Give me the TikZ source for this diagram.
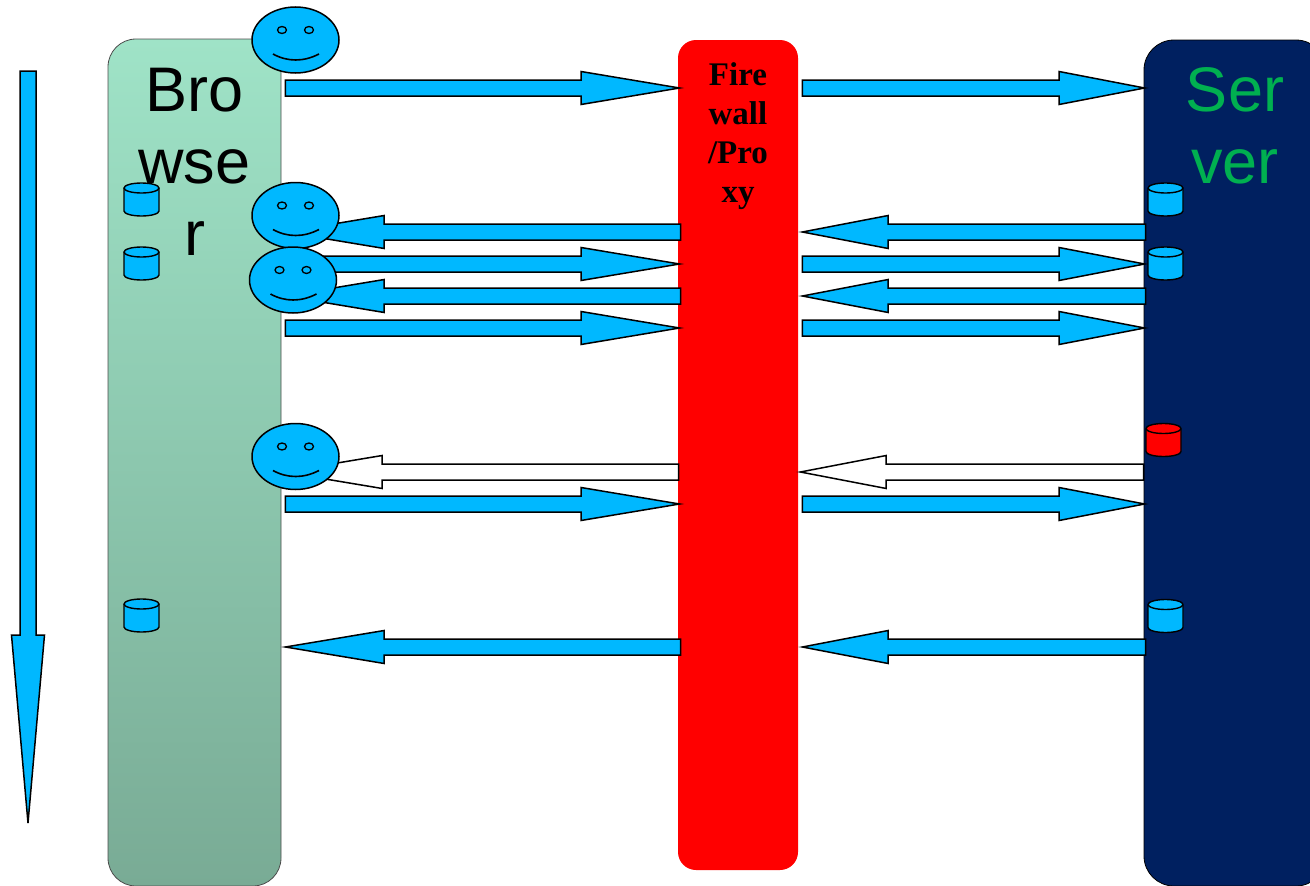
\documentclass[tikz,border=0pt]{standalone}
\usepackage{fontspec}
\setmainfont{Liberation Sans}
\newfontfamily\fwfont{Liberation Serif}
\usetikzlibrary{calc}
\usetikzlibrary{shapes.geometric}
\usetikzlibrary{positioning}

\definecolor{arrowblue}{HTML}{00B8FF}
\definecolor{browsertop}{HTML}{9FE3C7}
\definecolor{browserbottom}{HTML}{79AB95}
\definecolor{servernavy}{HTML}{002060}
\definecolor{servergreen}{HTML}{00B050}

\tikzset{
  lane/.style={rectangle, inner sep=0pt, line width=0.8pt},
  lanelabel/.style={anchor=north, inner sep=0pt, align=center, font=\fontsize{63}{72}\selectfont},
  blockarrow/.style={draw=black, fill=arrowblue, line width=1.5pt,
    to path={let \p1=(\tikztostart), \p2=(\tikztotarget), \p3=($(\p2)!0.25!(\p1)$),
      \n1={atan2(\y2-\y1,\x2-\x1)} in
      ($(\p1)+(\n1+90:8pt)$) -- ($(\p3)+(\n1+90:8pt)$) -- ($(\p3)+(\n1+90:16.5pt)$)
      -- (\p2) -- ($(\p3)+(\n1-90:16.5pt)$) -- ($(\p3)+(\n1-90:8pt)$)
      -- ($(\p1)+(\n1-90:8pt)$) -- cycle}},
  smiley/.style={ellipse, draw=black, fill=arrowblue, line width=1.5pt, inner sep=0pt,
    minimum width=87pt, minimum height=66pt,
    path picture={
      \draw[line width=1.3pt] ([shift={(-13.5,-10)}]path picture bounding box.center) ellipse [x radius=4.5pt, y radius=3.5pt];
      \draw[line width=1.3pt] ([shift={(13.5,-10)}]path picture bounding box.center) ellipse [x radius=4.5pt, y radius=3.5pt];
      \draw[line width=1.6pt] ([shift={(-22.5,14)}]path picture bounding box.center)
        .. controls ([shift={(-8,22)}]path picture bounding box.center) and ([shift={(8,22)}]path picture bounding box.center)
        .. ([shift={(23.5,14)}]path picture bounding box.center);
    }},
  db/.style={draw=black, line width=1.4pt},
}

\begin{document}
\begin{tikzpicture}[x=1pt,y=-1pt]
    \useasboundingbox (0,0) rectangle (1310,886);
    \clip (0,0) rectangle (1310,886);

    % lanes
    \node[lane, draw=black!70, rounded corners=28pt, top color=browsertop, bottom color=browserbottom,
      minimum width=173pt, minimum height=847pt] (browser) at (194.5,462.5) {};
    \node[lane, fill=red, rounded corners=18pt, minimum width=120pt, minimum height=830pt] (firewall) at (738,455) {};
    \node[lane, draw=black, fill=servernavy, rounded corners=30pt, minimum width=182pt, minimum height=846pt] (server) at (1235,463) {};

    \node[lanelabel] (browsertext) at (194.5,68) {Bro\\wse\\r};
    \node[lanelabel, text=servergreen] (servertext) at (1235,67) {Ser\\ver};
    \node[anchor=north, inner sep=0pt, align=center, font=\fwfont\bfseries\fontsize{33}{39}\selectfont] (firewalltext) at (738,62) {Fire\\wall\\/Pro\\xy};

    % time
    \coordinate (timetop) at (28,71);
    \coordinate (timebottom) at (28,823);
    \draw[blockarrow] (timetop) to (timebottom);

    % rows
    \foreach \row/\yy in {1/88, 2/232, 3/264, 4/296, 5/328, 6/472, 7/504, 8/647}
      \coordinate (r\row) at (0,\yy);

    \foreach \row in {1,3,5,7} {
      \draw[blockarrow] ([xshift=4pt]browser.east |- r\row) to ([xshift=2pt]firewall.west |- r\row);
      \draw[blockarrow] ([xshift=4pt]firewall.east |- r\row) to ([xshift=1pt]server.west |- r\row);
    }
    \foreach \row in {2,4,8} {
      \draw[blockarrow] ([xshift=3pt]firewall.west |- r\row) to ([xshift=4pt]browser.east |- r\row);
      \draw[blockarrow] ([xshift=2pt]server.west |- r\row) to ([xshift=4pt]firewall.east |- r\row);
    }
    \draw[blockarrow, fill=white] ([xshift=1pt]firewall.west |- r6) to ([xshift=2pt]browser.east |- r6);
    \draw[blockarrow, fill=white] (server.west |- r6) to ([xshift=2pt]firewall.east |- r6);

    % storage
    \foreach \name/\x/\y/\col in {browserdb1/141.5/199.5/arrowblue, browserdb2/141.5/263.5/arrowblue,
        browserdb3/141.5/615.5/arrowblue, serverdb1/1165.5/199.5/arrowblue, serverdb2/1165.5/263.5/arrowblue,
        serverdb3/1163.5/440/red, serverdb4/1165.5/616/arrowblue} {
      \coordinate (\name) at (\x,\y);
      \draw[db, fill=\col] ($(\name)+(-17.5,-11.5)$) -- ($(\name)+(-17.5,11.5)$)
        arc[start angle=180, end angle=360, x radius=17.5pt, y radius=5pt]
        -- ($(\name)+(17.5,-11.5)$)
        arc[start angle=0, end angle=180, x radius=17.5pt, y radius=5pt] -- cycle;
      \draw[db] ($(\name)+(-17.5,-11.5)$) arc[start angle=180, end angle=360, x radius=17.5pt, y radius=5pt];
    }

    % users
    \node[smiley] (user1) at (295.5,40) {};
    \node[smiley] (user2) at (295.5,215.5) {};
    \node[smiley] (user3) at (293,280) {};
    \node[smiley] (user4) at (295.5,456.5) {};
\end{tikzpicture}
\end{document}
